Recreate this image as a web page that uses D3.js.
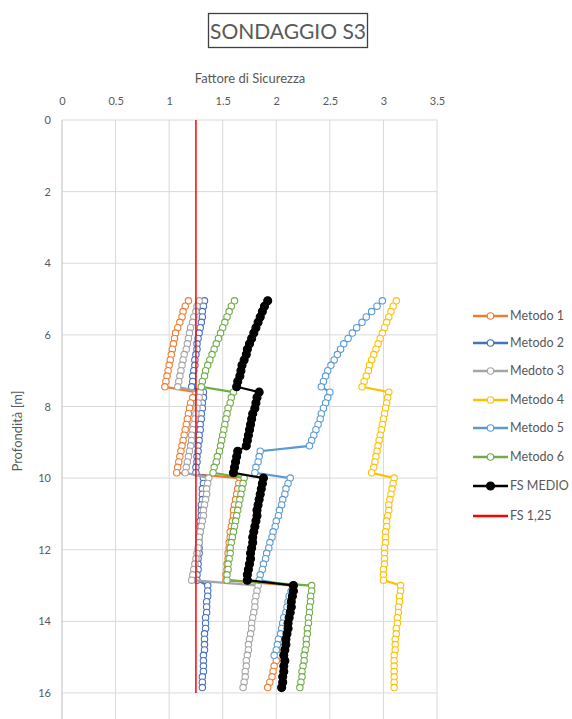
<!DOCTYPE html>
<html>
<head>
<meta charset="utf-8">
<script src="https://cdn.jsdelivr.net/npm/d3@7"></script>
<style>
  body { margin: 0; background: #fff; }
  svg text { font-family: Lato, "Open Sans", sans-serif; fill: #595959; }
</style>
</head>
<body>
<div id="chart"></div>
<script>
// depths (m) of the readings, 0.15 m step
const depth = [
  5.05, 5.2, 5.35, 5.5, 5.65, 5.8, 5.95, 6.1, 6.25, 6.4, 6.55, 6.7, 6.85, 7.0, 7.15, 7.3, 7.45,
  7.6, 7.75, 7.9, 8.05, 8.2, 8.35, 8.5, 8.65, 8.8, 8.95, 9.1, 9.25, 9.4, 9.55, 9.7, 9.85,
  10.0, 10.15, 10.3, 10.45, 10.6, 10.75, 10.9, 11.05, 11.2, 11.35, 11.5, 11.65, 11.8, 11.95, 12.1, 12.25, 12.4, 12.55, 12.7, 12.85,
  13.0, 13.15, 13.3, 13.45, 13.6, 13.75, 13.9, 14.05, 14.2, 14.35, 14.5, 14.65, 14.8, 14.95, 15.1, 15.25, 15.4, 15.55, 15.7, 15.85
];

const metodo1 = [
  1.18, 1.15, 1.13, 1.12, 1.10, 1.08, 1.06, 1.05, 1.04, 1.03, 1.02, 1.01, 1.00, 0.99, 0.98, 0.97, 0.96,
  1.25, 1.22, 1.20, 1.19, 1.18, 1.17, 1.16, 1.15, 1.14, 1.13, 1.12, 1.11, 1.10, 1.09, 1.08, 1.07,
  1.66, 1.65, 1.64, 1.63, 1.62, 1.61, 1.60, 1.60, 1.59, 1.58, 1.57, 1.57, 1.56, 1.56, 1.55, 1.55, 1.54, 1.54, 1.53, 1.53,
  2.15, 2.14, 2.13, 2.12, 2.11, 2.10, 2.09, 2.08, 2.07, 2.06, 2.05, 2.04, 2.03, 2.02, 2.00, 1.98, 1.97, 1.96, 1.94, 1.92
];
const metodo2 = [
  1.33, 1.32, 1.31, 1.31, 1.30, 1.29, 1.28, 1.27, 1.26, 1.26, 1.25, 1.24, 1.24, 1.23, 1.22, 1.22, 1.21,
  1.32, 1.32, 1.31, 1.31, 1.30, 1.30, 1.29, 1.29, 1.28, 1.28, 1.27, 1.27, 1.26, 1.26, 1.25, 1.25,
  1.32, 1.32, 1.31, 1.31, 1.31, 1.30, 1.30, 1.30, 1.29, 1.29, 1.29, 1.28, 1.28, 1.28, 1.28, 1.27, 1.27, 1.27, 1.26, 1.26,
  1.36, 1.36, 1.36, 1.35, 1.35, 1.35, 1.34, 1.34, 1.34, 1.33, 1.33, 1.33, 1.33, 1.32, 1.32, 1.32, 1.32, 1.31, 1.31, 1.31
];
const metodo3 = [
  1.28, 1.26, 1.25, 1.23, 1.22, 1.20, 1.19, 1.18, 1.17, 1.16, 1.14, 1.13, 1.12, 1.11, 1.10, 1.09, 1.08,
  1.29, 1.28, 1.27, 1.26, 1.25, 1.24, 1.23, 1.22, 1.21, 1.21, 1.20, 1.19, 1.18, 1.17, 1.16, 1.15,
  1.37, 1.36, 1.35, 1.35, 1.34, 1.33, 1.32, 1.32, 1.31, 1.30, 1.29, 1.28, 1.28, 1.27, 1.26, 1.25, 1.24, 1.23, 1.22, 1.21,
  1.83, 1.82, 1.81, 1.80, 1.80, 1.79, 1.78, 1.77, 1.77, 1.76, 1.75, 1.74, 1.74, 1.73, 1.72, 1.72, 1.71, 1.71, 1.70, 1.69
];
const metodo4 = [
  3.12, 3.09, 3.07, 3.05, 3.03, 3.01, 2.99, 2.97, 2.95, 2.93, 2.91, 2.89, 2.87, 2.86, 2.84, 2.82, 2.80,
  3.05, 3.04, 3.03, 3.02, 3.01, 3.00, 2.99, 2.98, 2.97, 2.96, 2.95, 2.94, 2.93, 2.92, 2.91, 2.89,
  3.10, 3.09, 3.08, 3.07, 3.06, 3.05, 3.05, 3.04, 3.03, 3.03, 3.02, 3.02, 3.02, 3.01, 3.01, 3.01, 3.01, 3.00, 3.00, 3.00,
  3.16, 3.16, 3.15, 3.15, 3.14, 3.14, 3.13, 3.13, 3.12, 3.12, 3.11, 3.11, 3.11, 3.10, 3.10, 3.10, 3.10, 3.10, 3.10, 3.10
];
const metodo5 = [
  2.99, 2.94, 2.89, 2.84, 2.80, 2.75, 2.71, 2.67, 2.63, 2.60, 2.57, 2.54, 2.51, 2.48, 2.46, 2.44, 2.42,
  2.50, 2.48, 2.46, 2.44, 2.42, 2.41, 2.39, 2.37, 2.35, 2.33, 2.31, 1.85, 1.84, 1.83, 1.81, 1.80,
  2.13, 2.11, 2.09, 2.08, 2.06, 2.05, 2.03, 2.02, 2.00, 1.99, 1.97, 1.96, 1.94, 1.93, 1.91, 1.90, 1.88, 1.87, 1.85, 1.84,
  2.15, 2.14, 2.12, 2.11, 2.10, 2.09, 2.07, 2.06, 2.05, 2.04, 2.02, 2.01, 2.00, 1.98, null, null, null, null, null, null
];
const metodo6 = [
  1.61, 1.58, 1.56, 1.54, 1.52, 1.50, 1.48, 1.46, 1.44, 1.42, 1.40, 1.38, 1.36, 1.34, 1.33, 1.31, 1.30,
  1.60, 1.58, 1.57, 1.55, 1.54, 1.53, 1.52, 1.51, 1.50, 1.49, 1.48, 1.47, 1.45, 1.44, 1.42, 1.41,
  1.70, 1.69, 1.68, 1.67, 1.66, 1.65, 1.64, 1.63, 1.62, 1.61, 1.60, 1.59, 1.58, 1.57, 1.57, 1.56, 1.55, 1.55, 1.54, 1.54,
  2.33, 2.33, 2.32, 2.32, 2.31, 2.31, 2.30, 2.30, 2.29, 2.29, 2.28, 2.28, 2.27, 2.26, 2.26, 2.25, 2.24, 2.24, 2.23, 2.22
];
const fsMedio = [
  1.92, 1.89, 1.87, 1.85, 1.83, 1.81, 1.79, 1.77, 1.75, 1.73, 1.72, 1.70, 1.68, 1.67, 1.66, 1.64, 1.63,
  1.84, 1.82, 1.81, 1.80, 1.78, 1.77, 1.76, 1.75, 1.74, 1.73, 1.72, 1.64, 1.63, 1.62, 1.61, 1.60,
  1.88, 1.87, 1.86, 1.85, 1.84, 1.83, 1.82, 1.82, 1.81, 1.80, 1.79, 1.78, 1.78, 1.77, 1.76, 1.76, 1.75, 1.74, 1.73, 1.73,
  2.16, 2.16, 2.15, 2.14, 2.14, 2.13, 2.12, 2.11, 2.11, 2.10, 2.09, 2.09, 2.08, 2.07, 2.08, 2.07, 2.07, 2.06, 2.06, 2.05
];
// FS 1,25 reference line
const fsLimitDepth = [0, 16];
const fsLimitValue = [1.25, 1.25];

const xTicks = [0, 0.5, 1, 1.5, 2, 2.5, 3, 3.5];
const yTicks = [0, 2, 4, 6, 8, 10, 12, 14, 16];

const seriesNames = ["Metodo 1", "Metodo 2", "Medoto 3", "Metodo 4", "Metodo 5", "Metodo 6", "FS MEDIO", "FS 1,25"];
const seriesColors = ["#ED7D31", "#4472C4", "#A5A5A5", "#FFC000", "#5B9BD5", "#70AD47", "#000000", "#FF0000"];

const width = 572, height = 719;
const margin = { top: 120, left: 62 };
const innerWidth = 375;
const pxPerMetre = 35.81;
const markerR = 3.2, meanR = 4;

const svg = d3.select("#chart").append("svg")
    .attr("width", width)
    .attr("height", height);

const x = d3.scaleLinear().domain([0, 3.5]).range([margin.left, margin.left + innerWidth]);
const y = d3.scaleLinear().domain([0, 18]).range([margin.top, margin.top + 18 * pxPerMetre]);

// title box
svg.append("rect")
    .attr("x", 208.5).attr("y", 13.5)
    .attr("width", 159).attr("height", 34)
    .attr("fill", "none").attr("stroke", "#404040").attr("stroke-width", 1.3);
svg.append("text")
    .attr("x", 288).attr("y", 38.5)
    .attr("text-anchor", "middle")
    .style("font-size", "21px")
    .text("SONDAGGIO S3");

// gridlines
svg.append("g")
    .selectAll("line")
    .data(xTicks.slice(1))
    .join("line")
    .attr("x1", d => x(d)).attr("x2", d => x(d))
    .attr("y1", y(0)).attr("y2", height)
    .attr("stroke", "#d9d9d9").attr("stroke-width", 1);
svg.append("g")
    .selectAll("line")
    .data(yTicks)
    .join("line")
    .attr("x1", x(0)).attr("x2", x(3.5))
    .attr("y1", d => y(d)).attr("y2", d => y(d))
    .attr("stroke", "#d9d9d9").attr("stroke-width", 1);
// left axis line
svg.append("line")
    .attr("x1", x(0)).attr("x2", x(0))
    .attr("y1", y(0)).attr("y2", height)
    .attr("stroke", "#bfbfbf").attr("stroke-width", 1);

// tick labels (top and left)
const xAxis = svg.append("g")
    .attr("transform", "translate(0,101)")
    .call(d3.axisTop(x).tickValues(xTicks).tickSize(0).tickFormat(d3.format("")));
xAxis.select(".domain").remove();
xAxis.selectAll("text").attr("y", 0).attr("dy", "0.35em").style("font-size", "11px");

const yAxis = svg.append("g")
    .attr("transform", "translate(51,0)")
    .call(d3.axisLeft(y).tickValues(yTicks).tickSize(0).tickFormat(d3.format("")));
yAxis.select(".domain").remove();
yAxis.selectAll("text").attr("x", 0).style("font-size", "11px");

svg.append("text")
    .attr("x", 250).attr("y", 83)
    .attr("text-anchor", "middle")
    .style("font-size", "13px")
    .text("Fattore di Sicurezza");
svg.append("text")
    .attr("transform", "translate(22,431) rotate(-90)")
    .attr("text-anchor", "middle")
    .style("font-size", "13px")
    .text("Profondità [m]");

// series
const methodValues = [metodo1, metodo2, metodo3, metodo4, metodo5, metodo6, fsMedio];
const line = d3.line()
    .defined(d => d.v != null)
    .x(d => x(d.v))
    .y(d => y(d.z));

methodValues.forEach((vals, i) => {
    const pts = depth.map((z, j) => ({ z: z, v: vals[j] }));
    const g = svg.append("g");
    const isMean = i === 6;
    g.append("path")
        .datum(pts)
        .attr("d", line)
        .attr("fill", "none")
        .attr("stroke", seriesColors[i])
        .attr("stroke-width", 2.2);
    g.selectAll("circle")
        .data(pts.filter(d => d.v != null))
        .join("circle")
        .attr("cx", d => x(d.v))
        .attr("cy", d => y(d.z))
        .attr("r", isMean ? meanR : markerR)
        .attr("fill", isMean ? "#000" : "#fff")
        .attr("stroke", seriesColors[i])
        .attr("stroke-width", 1.1);
});

// FS 1,25
svg.append("path")
    .datum(fsLimitDepth.map((z, j) => ({ z: z, v: fsLimitValue[j] })))
    .attr("d", line)
    .attr("fill", "none")
    .attr("stroke", seriesColors[7])
    .attr("stroke-width", 1.5);

// legend
const legend = svg.append("g").attr("transform", "translate(473,0)");
const legendY = [316, 343, 371, 400, 428, 457, 486, 516];
seriesNames.forEach((name, i) => {
    const row = legend.append("g").attr("transform", "translate(0," + legendY[i] + ")");
    row.append("line")
        .attr("x1", 0).attr("x2", 35)
        .attr("stroke", seriesColors[i])
        .attr("stroke-width", 2.4);
    if (i < 7) {
        row.append("circle")
            .attr("cx", 17.5).attr("r", i === 6 ? meanR : markerR)
            .attr("fill", i === 6 ? "#000" : "#fff")
            .attr("stroke", seriesColors[i]).attr("stroke-width", 1.1);
    }
    row.append("text")
        .attr("x", 37).attr("dy", "0.35em")
        .style("font-size", "12.5px")
        .text(name);
});
</script>
</body>
</html>
